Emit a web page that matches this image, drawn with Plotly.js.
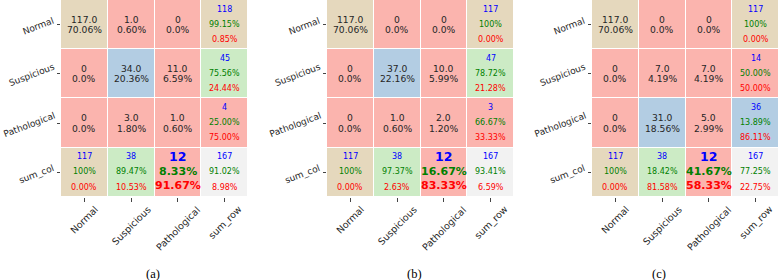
<!DOCTYPE html>
<html>
<head>
<meta charset="utf-8">
<script src="https://cdn.plot.ly/plotly-3.0.1.min.js"></script>
<style>
  html, body { margin: 0; padding: 0; background: #fff; }
  #chart { width: 780px; height: 280px; }
</style>
</head>
<body>
<div id="chart"></div>
<script>
// Class names and axis labels
const classNames = ['Normal', 'Suspicious', 'Pathological'];
const rowLabels = ['Normal', 'Suspicious', 'Pathological', 'sum_col'];
const colLabels = ['Normal', 'Suspicious', 'Pathological', 'sum_row'];

// Confusion matrices (rows: actual, columns: predicted)
const cmA = [[117, 1, 0], [0, 34, 11], [0, 3, 1]];
const cmB = [[117, 0, 0], [0, 37, 10], [0, 1, 2]];
const cmC = [[117, 0, 0], [0, 7, 7], [0, 31, 5]];

const captions = ['(a)', '(b)', '(c)'];

// matplotlib "Pastel1" colormap, 9 discrete colours
const pastel1 = ['#fbb4ae', '#b3cde3', '#ccebc5', '#decbe4', '#fed9a6',
                 '#ffffcc', '#e5d8bd', '#fddaec', '#f2f2f2'];

// ---- layout geometry (pixels) ----
const W = 780, H = 280;
const panelX = [[61, 248], [327, 514], [592, 779]];
const plotTop = 0, plotBottom = 197;
const captionX = [152.5, 414, 658.7];
const captionY = 274;

const FONT = 'DejaVu Sans';
const BLUE = '#0000ff', GREEN = '#008000', RED = '#ff0000', INK = '#262626';

// discrete colourscale: value bin k of 9 -> pastel1[k]
const colorscale = [];
pastel1.forEach((c, k) => {
  colorscale.push([k / 9, c]);
  colorscale.push([(k + 1) / 9, c]);
});

function sum(a) { return a.reduce((s, v) => s + v, 0); }

function withTotals(cm) {
  const n = cm.length;
  const rows = cm.map(r => [...r, sum(r)]);
  const colSums = [];
  for (let j = 0; j < n; j++) colSums.push(sum(cm.map(r => r[j])));
  rows.push([...colSums, sum(colSums)]);
  return rows;
}

function pctOk(v) { return v === 100 ? '100%' : v.toFixed(2) + '%'; }

const data = [];
const annotations = [];
const layout = {
  width: W, height: H,
  margin: { l: 0, r: 0, t: 0, b: 0 },
  paper_bgcolor: '#fff', plot_bgcolor: '#fff',
  showlegend: false,
  annotations: annotations
};

[cmA, cmB, cmC].forEach((cm, p) => {
  const n = cm.length;
  const full = withTotals(cm);
  const total = full[n][n];
  const sfx = p === 0 ? '' : String(p + 1);
  const xr = 'x' + sfx, yr = 'y' + sfx;

  data.push({
    type: 'heatmap',
    x: colLabels, y: rowLabels, z: full,
    xaxis: xr, yaxis: yr,
    zmin: 0, zmax: total,
    colorscale: colorscale,
    showscale: false,
    xgap: 1, ygap: 1,
    hoverinfo: 'skip'
  });

  const axCommon = {
    type: 'category', showgrid: false, zeroline: false, showline: false,
    ticks: 'outside', ticklen: 3.5, tickwidth: 1, tickcolor: '#444',
    showticklabels: false, fixedrange: true
  };
  layout['xaxis' + sfx] = Object.assign({}, axCommon, {
    domain: [panelX[p][0] / W, panelX[p][1] / W], anchor: yr
  });
  layout['yaxis' + sfx] = Object.assign({}, axCommon, {
    domain: [1 - plotBottom / H, 1 - plotTop / H], anchor: xr,
    autorange: 'reversed'
  });

  const addText = (j, i, text, color, size, shift, bold) => {
    annotations.push({
      xref: xr, yref: yr, x: colLabels[j], y: rowLabels[i],
      text: bold ? '<b>' + text + '</b>' : text,
      showarrow: false, yshift: shift,
      font: { family: FONT, size: size, color: color }
    });
  };

  for (let i = 0; i <= n; i++) {
    for (let j = 0; j <= n; j++) {
      const v = full[i][j];
      if (i < n && j < n) {
        // inner cell: count and share of all samples
        const l1 = v === 0 ? '0' : v.toFixed(1);
        const l2 = v === 0 ? '0.0%' : (v / total * 100).toFixed(2) + '%';
        addText(j, i, l1, INK, 9.2, 5.1);
        addText(j, i, l2, INK, 9.2, -5);
      } else {
        // summary cell: count, correct share, error share
        let correct;
        if (i < n) correct = cm[i][i];
        else if (j < n) correct = cm[j][j];
        else correct = sum(cm.map((r, k) => r[k]));
        const ok = correct / v * 100;
        const err = (v - correct) / v * 100;
        const big = (i === n && j === n - 1);
        if (big) {
          addText(j, i, String(v), BLUE, 12.5, 15.3, true);
          addText(j, i, pctOk(ok), GREEN, 11, 0.3, true);
          addText(j, i, err.toFixed(2) + '%', RED, 11, -13.7, true);
        } else {
          addText(j, i, String(v), BLUE, 8, 15.5);
          addText(j, i, pctOk(ok), GREEN, 8, 0.3);
          addText(j, i, err.toFixed(2) + '%', RED, 8, -14.8);
        }
      }
    }
  }

  // row tick labels
  rowLabels.forEach(lab => {
    annotations.push({
      xref: xr + ' domain', yref: yr, x: 0, y: lab,
      xanchor: 'right', yanchor: 'middle', xshift: -4, yshift: -1.5,
      text: lab, textangle: -21, showarrow: false, borderpad: 0,
      font: { family: FONT, size: 9, color: INK }
    });
  });
  // column tick labels
  colLabels.forEach(lab => {
    annotations.push({
      xref: xr, yref: yr + ' domain', x: lab, y: 0,
      xanchor: 'center', yanchor: 'top', yshift: -4,
      text: lab, textangle: -45, showarrow: false,
      font: { family: FONT, size: 9.5, color: INK }
    });
  });

  // sub-figure caption
  annotations.push({
    xref: 'paper', yref: 'paper', x: captionX[p] / W, y: 1 - captionY / H,
    xanchor: 'center', yanchor: 'middle',
    text: captions[p], showarrow: false,
    font: { family: 'Liberation Serif', size: 12.5, color: '#000' }
  });
});

Plotly.newPlot('chart', data, layout, { staticPlot: true, displayModeBar: false });
</script>
</body>
</html>
